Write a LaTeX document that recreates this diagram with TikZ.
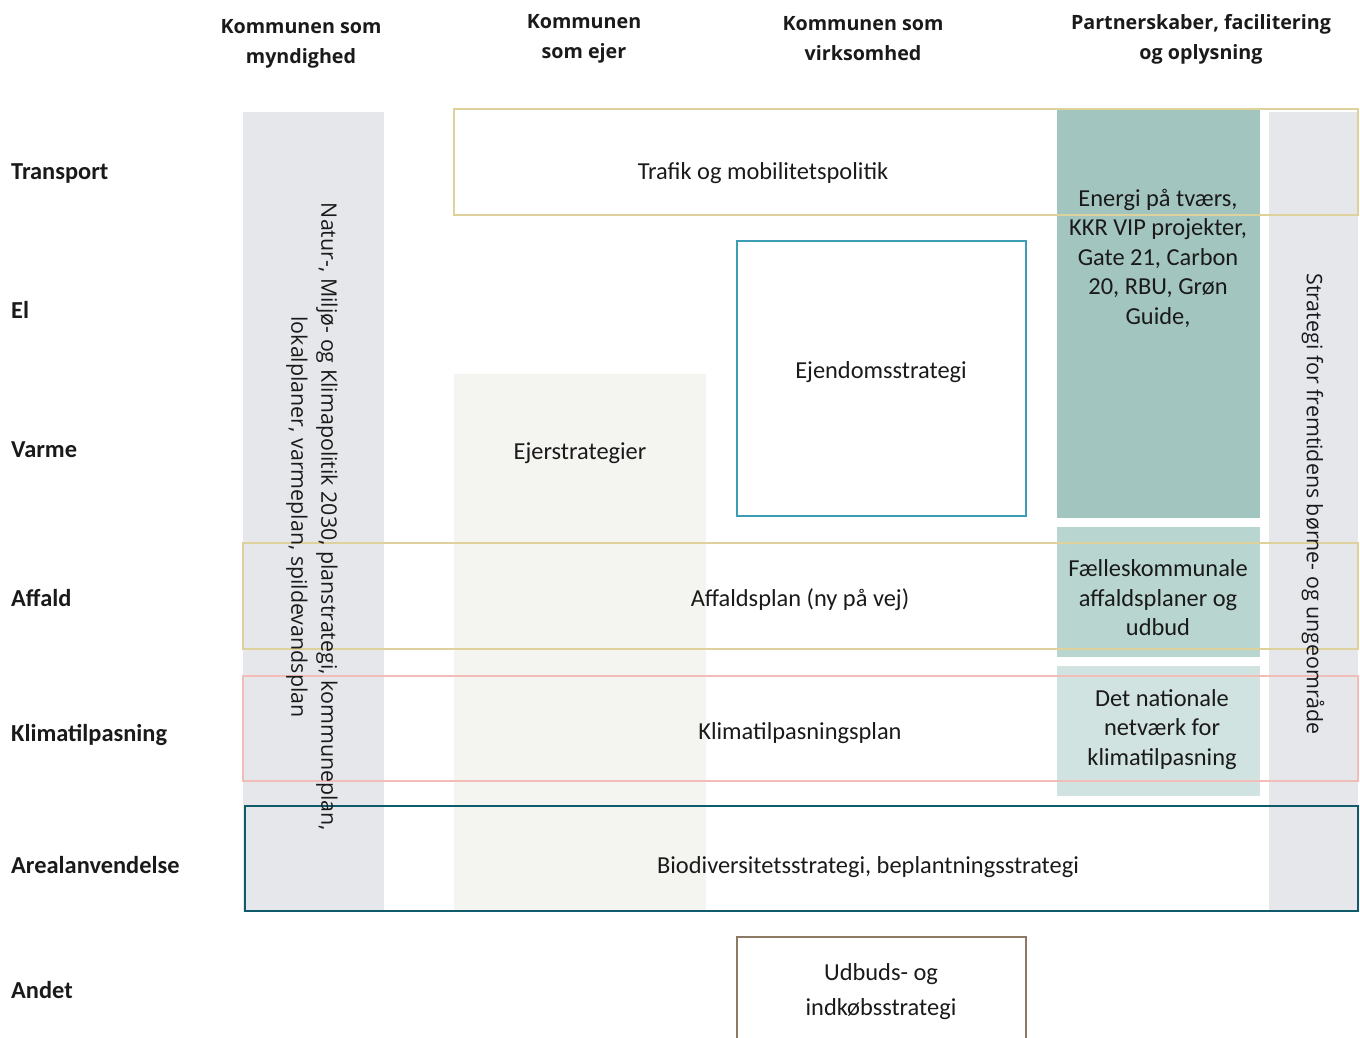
\documentclass[tikz,border=0pt]{standalone}
\usepackage{fontspec}
\setmainfont{Carlito}
\newfontfamily\osans{Open Sans}
\definecolor{gcol}{HTML}{E6E7EB}
\definecolor{bcol}{HTML}{F4F5F0}
\definecolor{tA}{HTML}{A3C5BF}
\definecolor{tB}{HTML}{B9D5D0}
\definecolor{tC}{HTML}{D1E3E0}
\definecolor{tan}{HTML}{DDD19C}
\definecolor{pinkc}{HTML}{F2BDB9}
\definecolor{dteal}{HTML}{0F5A6B}
\definecolor{bteal}{HTML}{3D9DB5}
\definecolor{brownc}{HTML}{8C7A65}
\definecolor{txt}{HTML}{1A1A1A}
\begin{document}
\begin{tikzpicture}[x=1pt,y=-1pt,
  fillbox/.style={draw=none,inner sep=0pt,outer sep=0pt,anchor=north west},
  linebox/.style={inner sep=0pt,outer sep=0pt,anchor=north west,line width=2.6pt},
  lbl/.style={font=\fontsize{24.4}{29.5}\selectfont,text=txt,align=center,inner sep=0pt},
  slbl/.style={lbl,anchor=base},
  rlbl/.style={font=\osans\fontsize{21.4}{30}\selectfont,text=txt,align=center,inner sep=0pt,rotate=-90},
  hdr/.style={font=\osans\fontsize{19.7}{30}\selectfont\bfseries,text=txt,align=center,inner sep=0pt},
  rowl/.style={font=\fontsize{24.4}{29}\selectfont\bfseries,text=txt,anchor=base west,inner sep=0pt}]
\useasboundingbox (0,0) rectangle (1360,1037);
% fills
\node[fillbox,fill=gcol,minimum width=141pt,minimum height=799pt] (gl) at (243,112) {};
\node[fillbox,fill=bcol,minimum width=252pt,minimum height=537pt] (ej) at (454,374) {};
\node[fillbox,fill=tA,minimum width=203pt,minimum height=408pt] (en) at (1057,110) {};
\node[fillbox,fill=tB,minimum width=203pt,minimum height=130pt] (fk) at (1057,527) {};
\node[fillbox,fill=tC,minimum width=203pt,minimum height=130pt] (dn) at (1057,666) {};
\node[fillbox,fill=gcol,minimum width=89pt,minimum height=799pt] (gr) at (1269,112) {};
% outlined boxes
\node[linebox,draw=tan,minimum width=904pt,minimum height=106pt] (tr) at (454,109) {};
\node[linebox,draw=bteal,line width=2.2pt,minimum width=289pt,minimum height=275pt] (ed) at (737,241) {};
\node[linebox,draw=tan,minimum width=1115pt,minimum height=106pt] (af) at (243,543) {};
\node[linebox,draw=pinkc,minimum width=1115pt,minimum height=105pt] (kl) at (243,676) {};
\node[linebox,draw=dteal,minimum width=1113pt,minimum height=105pt] (ar) at (245,806) {};
\path[draw=brownc,line width=2.6pt] (737,1040) -- (737,937) -- (1026,937) -- (1026,1040);
\coordinate (udc) at (881,992);
% headers
\node[hdr] (h1) at (301,44) {Kommunen som\\myndighed};
\node[hdr] (h2) at (584,39) {Kommunen\\som ejer};
\node[hdr] (h3) at (863,39) {Kommunen som\\virksomhed};
\node[hdr] (h4) at (1201,39) {Partnerskaber, facilitering\\og oplysning};
% row labels
\node[rowl] (r1) at (11,179) {Transport};
\node[rowl] (r2) at (11,318) {El};
\node[rowl] (r3) at (11,457) {Varme};
\node[rowl] (r4) at (11,606) {Affald};
\node[rowl] (r5) at (11,741) {Klimatilpasning};
\node[rowl] (r6) at (11,873) {Arealanvendelse};
\node[rowl] (r7) at (11,998) {Andet};
% texts
\node[slbl] (ttr) at (763,179) {Trafik og mobilitetspolitik};
\node[lbl,anchor=north] (ten) at (1158,189) {Energi på tværs,\\KKR VIP projekter,\\Gate 21, Carbon\\20, RBU, Grøn\\Guide,};
\node[slbl] (ted) at (881,378) {Ejendomsstrategi};
\node[slbl] (tej) at (580,459) {Ejerstrategier};
\node[slbl] (taf) at (800,606) {Affaldsplan (ny på vej)};
\node[lbl] (tfk) at (1158,598) {Fælleskommunale\\affaldsplaner og\\udbud};
\node[lbl] (tdn) at (1162,729.5) {Det nationale\\netværk for\\klimatilpasning};
\node[slbl] (tkl) at (800,739) {Klimatilpasningsplan};
\node[slbl] (tar) at (868,873) {Biodiversitetsstrategi, beplantningsstrategi};
\node[lbl,font=\fontsize{24.4}{35}\selectfont] (tud) at (udc) {Udbuds- og\\indkøbsstrategi};
\node[rlbl] (tgl) at (312,517) {Natur-, Miljø- og Klimapolitik 2030, planstrategi, kommuneplan,\\lokalplaner, varmeplan, spildevandsplan};
\node[rlbl] (tgr) at (1313,504) {Strategi for fremtidens børne- og ungeområde};
\end{tikzpicture}
\end{document}
